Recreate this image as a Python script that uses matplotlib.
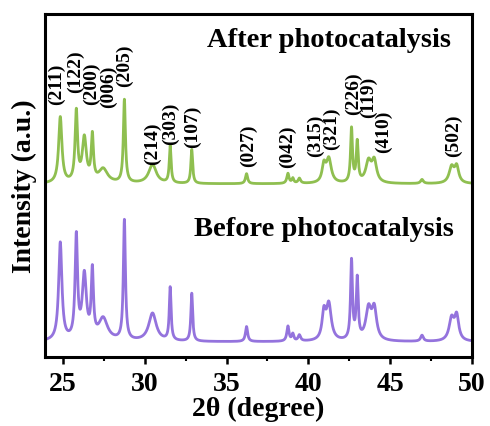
import numpy as np
import matplotlib
matplotlib.use("Agg")
import matplotlib.pyplot as plt
from matplotlib.ticker import MultipleLocator

plt.rcParams["font.family"] = ["Liberation Serif", "DejaVu Serif"]
plt.rcParams["font.weight"] = "bold"

# Peak list: position (deg), FWHM (deg), heights
PEAK_POS = [24.83, 25.81, 26.30, 26.79, 27.45, 28.75, 30.47, 31.55, 32.87,
            36.22, 38.75, 39.05, 39.45, 40.95, 41.25, 42.64, 42.99, 43.68,
            44.03, 46.95, 48.76, 49.07]
PEAK_FWHM = [0.24, 0.18, 0.30, 0.16, 0.65, 0.15, 0.55, 0.13, 0.13,
             0.16, 0.16, 0.14, 0.18, 0.26, 0.36, 0.14, 0.14, 0.40,
             0.34, 0.20, 0.36, 0.30]
AFTER_H = [66, 70, 44, 45, 14, 83, 19, 37, 34,
           10, 10, 5, 5, 17, 24, 54, 40, 21,
           21, 4, 16, 16]
BEFORE_H = [98, 102, 64, 66, 22, 120, 28, 53, 48,
            15, 15, 7, 6, 26, 36, 79, 60, 31,
            30, 6, 22, 24]

AFTER_BASE = 173
BEFORE_BASE = 15

LABELS = ["(211)", "(122)", "(200)", "(006)", "(205)", "(214)", "(303)", "(107)",
          "(027)", "(042)", "(315)", "(321)", "(226)", "(119)", "(410)", "(502)"]
LABEL_X = [24.60, 25.78, 26.72, 27.75, 28.75, 30.45, 31.57, 32.93,
           36.34, 38.73, 40.43, 41.40, 42.74, 43.70, 44.60, 48.90]
LABEL_Y = [253, 265, 253, 250, 271, 193, 213, 210,
           191, 190, 201, 208, 243, 240, 205, 201]

GREEN = "#8fbf50"
PURPLE = "#9473dd"


def profile(x, heights, base):
    y = np.full_like(x, float(base))
    for p, w, h in zip(PEAK_POS, PEAK_FWHM, heights):
        g = (w / 2) ** 2 / ((x - p) ** 2 + (w / 2) ** 2)
        y += h * g
    return y


x = np.linspace(23.9, 50, 4000)
y_after = profile(x, AFTER_H, AFTER_BASE)
y_before = profile(x, BEFORE_H, BEFORE_BASE)

fig = plt.figure(figsize=(4.9, 4.27), dpi=100)
ax = fig.add_axes([0.092, 0.162, 0.871, 0.803])

ax.plot(x, y_after, color=GREEN, lw=2.0)
ax.plot(x, y_before, color=PURPLE, lw=2.0)

for lab, lx, ly in zip(LABELS, LABEL_X, LABEL_Y):
    ax.text(lx, ly, lab, rotation=90, ha="center", va="bottom",
            fontsize=14, fontweight="bold")

ax.text(0.665, 0.925, "After photocatalysis", transform=ax.transAxes,
        ha="center", va="center", fontsize=20.5, fontweight="bold")
ax.text(0.653, 0.374, "Before photocatalysis", transform=ax.transAxes,
        ha="center", va="center", fontsize=20.5, fontweight="bold")

ax.set_xlim(23.9, 50)
ax.set_ylim(0, 343)
ax.set_yticks([])
ax.xaxis.set_major_locator(MultipleLocator(5))
ax.xaxis.set_minor_locator(MultipleLocator(2.5))
ax.tick_params(axis="x", which="major", direction="out", length=5, width=1.8,
               labelsize=20, pad=5)
ax.tick_params(axis="x", which="minor", direction="out", length=3, width=1.5)
for lab in ax.get_xticklabels():
    lab.set_fontweight("bold")
for sp in ax.spines.values():
    sp.set_linewidth(2.2)

ax.set_xlabel("2θ (degree)", fontsize=20, fontweight="bold", labelpad=0)
ax.set_ylabel("Intensity (a.u.)", fontsize=20, fontweight="bold", labelpad=6)

fig.savefig("out.png", dpi=100)
